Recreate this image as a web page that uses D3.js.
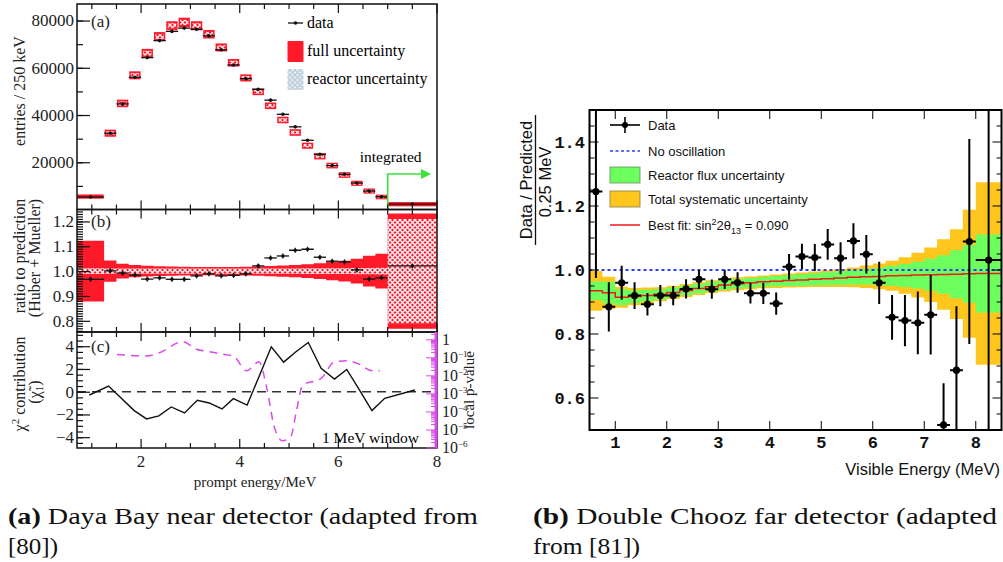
<!DOCTYPE html>
<html>
<head>
<meta charset="utf-8">
<script src="https://cdn.jsdelivr.net/npm/d3@7"></script>
<style>
body { margin: 0; background: #fff; }
</style>
</head>
<body>
<div id="chart"></div>
<script>
// ---------- Daya Bay (left figure) ----------
var dbEdges = [0.7, 1.25, 1.5, 1.75, 2.0, 2.25, 2.5, 2.75, 3.0, 3.25, 3.5, 3.75, 4.0, 4.25, 4.5, 4.75, 5.0, 5.25, 5.5, 5.75, 6.0, 6.25, 6.5, 6.75, 7.0, 8.0];
var dbData = [5300, 32300, 44700, 56000, 64300, 71500, 75400, 76800, 76300, 73500, 67600, 61200, 55400, 50900, 46300, 40300, 35000, 29300, 23400, 18600, 14900, 11200, 7800, 5400, 2300];
var dbPred = [5480, 32300, 44900, 56800, 66200, 73200, 77800, 79200, 77800, 74200, 68600, 62100, 55700, 49800, 43900, 37900, 32600, 27000, 22500, 18600, 14600, 11100, 7800, 5300, 2250];
var dbBoxErr = [900, 1500, 1600, 1700, 1800, 1900, 1900, 2000, 1900, 1800, 1700, 1600, 1500, 1400, 1400, 1400, 1400, 1300, 1300, 1200, 1200, 1100, 1100, 1000, 900];
var dbRatio = [0.967, 1.001, 0.992, 0.984, 0.968, 0.973, 0.967, 0.967, 0.981, 0.989, 0.981, 0.983, 0.989, 1.021, 1.053, 1.061, 1.084, 1.088, 1.056, 1.040, 1.037, 1.005, 0.968, 0.973, 1.021];
var dbFullUnc = [0.122, 0.043, 0.030, 0.025, 0.022, 0.020, 0.019, 0.018, 0.017, 0.017, 0.017, 0.017, 0.018, 0.019, 0.021, 0.023, 0.025, 0.028, 0.032, 0.037, 0.042, 0.050, 0.062, 0.070, 0.232];
var dbReacUnc = [0.012, 0.011, 0.011, 0.011, 0.011, 0.011, 0.011, 0.011, 0.011, 0.011, 0.011, 0.011, 0.011, 0.011, 0.011, 0.011, 0.011, 0.012, 0.012, 0.012, 0.012, 0.013, 0.013, 0.014, 0.21];
var chiX = [0.95, 1.34, 1.86, 2.11, 2.36, 2.61, 2.88, 3.14, 3.38, 3.64, 3.87, 4.15, 4.39, 4.64, 4.89, 5.14, 5.39, 5.65, 5.92, 6.17, 6.42, 6.68, 6.94, 7.55];
var chiY = [-0.29, 0.5, -1.66, -2.39, -2.13, -1.34, -1.87, -0.76, -0.99, -1.52, -0.61, -1.17, 1.32, 3.95, 2.6, 3.51, 4.33, 2.05, 1.11, 1.96, 0.21, -1.66, -0.58, 0.15];
var pvalX = [1.51, 2.10, 2.37, 2.84, 3.12, 3.38, 3.64, 3.87, 4.14, 4.39, 4.55, 4.70, 4.87, 5.04, 5.14, 5.28, 5.65, 5.92, 6.17, 6.42, 6.68, 6.84];
var pvalY = [0.155, 0.126, 0.19, 0.78, 0.30, 0.22, 0.16, 0.126, 0.019, 0.06, 0.002, 1.5e-5, 2.5e-6, 4.6e-6, 8.3e-5, 0.0031, 0.0072, 0.058, 0.069, 0.044, 0.019, 0.019];
var aTicks = [20000, 40000, 60000, 80000];
var bTicks = [0.8, 0.9, 1.0, 1.1, 1.2];
var cTicks = [-4, -2, 0, 2, 4];
var pTicks = [1, 1e-1, 1e-2, 1e-3, 1e-4, 1e-5, 1e-6];
var pTickExp = ["", "\u22121", "\u22122", "\u22123", "\u22124", "\u22125", "\u22126"];
var eTicks = [2, 4, 6, 8];

// ---------- Double Chooz (right figure) ----------
var dcEdges = [0.5, 0.75, 1.0, 1.25, 1.5, 1.75, 2.0, 2.25, 2.5, 2.75, 3.0, 3.25, 3.5, 3.75, 4.0, 4.25, 4.5, 4.75, 5.0, 5.25, 5.5, 5.75, 6.0, 6.25, 6.5, 6.75, 7.0, 7.25, 7.5, 7.75, 8.0, 8.5];
var dcRatio = [1.245, 0.885, 0.960, 0.920, 0.893, 0.920, 0.920, 0.941, 0.971, 0.940, 0.971, 0.961, 0.927, 0.927, 0.895, 1.010, 1.042, 1.039, 1.080, 1.037, 1.091, 1.049, 0.960, 0.852, 0.842, 0.835, 0.860, 0.516, 0.687, 1.089, 1.031];
var dcErr = [0.27, 0.077, 0.053, 0.042, 0.035, 0.033, 0.030, 0.030, 0.030, 0.030, 0.030, 0.032, 0.032, 0.033, 0.035, 0.040, 0.040, 0.042, 0.048, 0.050, 0.055, 0.060, 0.066, 0.070, 0.080, 0.098, 0.124, 0.13, 0.20, 0.32, 0.60];
var dcFit = [0.935, 0.929, 0.915, 0.917, 0.920, 0.924, 0.930, 0.936, 0.942, 0.948, 0.953, 0.957, 0.960, 0.963, 0.965, 0.967, 0.969, 0.971, 0.973, 0.975, 0.977, 0.979, 0.980, 0.982, 0.983, 0.984, 0.985, 0.986, 0.987, 0.988, 0.989];
var dcReac = [0.029, 0.034, 0.025, 0.020, 0.018, 0.016, 0.015, 0.015, 0.015, 0.015, 0.015, 0.015, 0.015, 0.015, 0.016, 0.017, 0.018, 0.019, 0.020, 0.021, 0.022, 0.024, 0.027, 0.031, 0.036, 0.042, 0.050, 0.060, 0.075, 0.090, 0.122];
var dcSyst = [0.062, 0.050, 0.033, 0.027, 0.025, 0.022, 0.021, 0.020, 0.020, 0.020, 0.020, 0.020, 0.020, 0.020, 0.021, 0.022, 0.023, 0.024, 0.026, 0.028, 0.031, 0.035, 0.040, 0.047, 0.057, 0.070, 0.085, 0.110, 0.140, 0.200, 0.285];
var dcYTicks = [0.6, 0.8, 1.0, 1.2, 1.4];
var dcXTicks = [1, 2, 3, 4, 5, 6, 7, 8];

var serif = "Liberation Serif, Times New Roman, serif";
var sans = "Liberation Sans, Arial, sans-serif";
var mono = "Liberation Mono, Courier New, monospace";

var svg = d3.select("#chart").append("svg")
    .attr("width", 1003)
    .attr("height", 562)
    .style("background", "#fff");

var defs = svg.append("defs");
// cross hatch used for reactor uncertainty
var pat = defs.append("pattern").attr("id", "hatch")
    .attr("patternUnits", "userSpaceOnUse").attr("width", 5).attr("height", 5);
pat.append("path").attr("d", "M0,0L5,5M5,0L0,5").attr("stroke", "#f2f3f8").attr("stroke-width", 1.35);
var pat2 = defs.append("pattern").attr("id", "hatchLeg")
    .attr("patternUnits", "userSpaceOnUse").attr("width", 5).attr("height", 5);
pat2.append("rect").attr("width", 5).attr("height", 5).attr("fill", "#e6edf2");
pat2.append("path").attr("d", "M0,0L5,5M5,0L0,5").attr("stroke", "#b7c9d6").attr("stroke-width", 1.1);

// ================= LEFT =================
var L = {left: 77, right: 437};
var x = d3.scaleLinear().domain([0.7, 8]).range([L.left, L.right]);
var yA = d3.scaleLinear().domain([0, 87000]).range([209.5, 4]);
var yB = d3.scaleLinear().domain([0.755, 1.248]).range([332, 209.5]);
var yC = d3.scaleLinear().domain([-4.95, 5.25]).range([448, 332]);
var yP = d3.scaleLog().domain([1e-6, 2.7]).range([448, 332]);

var bins = dbEdges.slice(0, -1).map(function(e, i) {
    return {lo: e, hi: dbEdges[i + 1], data: dbData[i], pred: dbPred[i], boxErr: dbBoxErr[i],
        ratio: dbRatio[i], full: dbFullUnc[i], reac: dbReacUnc[i]};
});

defs.append("clipPath").attr("id", "clipB").append("rect")
    .attr("x", L.left).attr("y", 209.5).attr("width", L.right - L.left).attr("height", 332 - 209.5);

// --- panel (a)
var gA = svg.append("g");
gA.selectAll("rect.full").data(bins).enter().append("rect")
    .attr("x", function(d) { return x(d.lo) + 0.5; })
    .attr("width", function(d) { return x(d.hi) - x(d.lo) - 1; })
    .attr("y", function(d) { return yA(d.pred + d.boxErr); })
    .attr("height", function(d) { return yA(d.pred - d.boxErr) - yA(d.pred + d.boxErr); })
    .attr("fill", "#ff1a2a");
gA.selectAll("rect.reac").data(bins.slice(1, 24)).enter().append("rect")
    .attr("x", function(d) { return x(d.lo) + 2; })
    .attr("width", function(d) { return x(d.hi) - x(d.lo) - 4; })
    .attr("y", function(d) { return yA(d.pred + d.boxErr * 0.55); })
    .attr("height", function(d) { return yA(d.pred - d.boxErr * 0.55) - yA(d.pred + d.boxErr * 0.55); })
    .attr("fill", "url(#hatch)");
gA.selectAll("line.dh").data(bins).enter().append("line")
    .attr("x1", function(d) { return x(d.lo); }).attr("x2", function(d) { return x(d.hi); })
    .attr("y1", function(d) { return yA(d.data); }).attr("y2", function(d) { return yA(d.data); })
    .attr("stroke", "#111").attr("stroke-width", 1.3);
gA.selectAll("circle").data(bins).enter().append("circle")
    .attr("cx", function(d) { return x((d.lo + d.hi) / 2); })
    .attr("cy", function(d) { return yA(d.data); })
    .attr("r", 1.8).attr("fill", "#111");

// integrated arrow
var arrowY = yA(15000);
gA.append("path")
    .attr("d", "M" + x(7.0) + "," + yA(0) + "V" + arrowY + "H" + (x(7.88) - 8))
    .attr("fill", "none").attr("stroke", "#3ee03e").attr("stroke-width", 1.6);
gA.append("path")
    .attr("d", "M" + x(7.88) + "," + arrowY + "l-10,-5v10z")
    .attr("fill", "#3ee03e");
gA.append("text").attr("x", x(7.06)).attr("y", yA(20200))
    .attr("text-anchor", "middle").attr("font-family", serif).attr("font-size", 15.5)
    .text("integrated");

// legend (a)
var legA = gA.append("g").attr("font-family", serif).attr("font-size", 16);
legA.append("line").attr("x1", 288).attr("x2", 303).attr("y1", 23).attr("y2", 23).attr("stroke", "#111").attr("stroke-width", 1.3);
legA.append("circle").attr("cx", 295.5).attr("cy", 23).attr("r", 1.8).attr("fill", "#111");
legA.append("text").attr("x", 307).attr("y", 28).text("data");
legA.append("rect").attr("x", 287.5).attr("y", 41).attr("width", 16).attr("height", 21).attr("rx", 1).attr("fill", "#ff1a2a");
legA.append("text").attr("x", 307).attr("y", 56).text("full uncertainty");
legA.append("rect").attr("x", 287.5).attr("y", 69).attr("width", 16).attr("height", 21).attr("fill", "url(#hatchLeg)");
legA.append("text").attr("x", 307).attr("y", 84).text("reactor uncertainty");

// --- panel (b)
var gB = svg.append("g").attr("clip-path", "url(#clipB)");
function stepPts(arr, lo, hi) {
    var pts = [];
    arr.forEach(function(d) { pts.push({x: d.lo, a: lo(d), b: hi(d)}); pts.push({x: d.hi, a: lo(d), b: hi(d)}); });
    return pts;
}
var areaB = d3.area().x(function(d) { return x(d.x); }).y0(function(d) { return yB(d.a); }).y1(function(d) { return yB(d.b); });
gB.append("path").datum(stepPts(bins, function(d) { return 1 - d.full; }, function(d) { return 1 + d.full; }))
    .attr("d", areaB).attr("fill", "#ff1a2a");
gB.append("path").datum(stepPts(bins, function(d) { return 1 - d.reac; }, function(d) { return 1 + d.reac; }))
    .attr("d", areaB).attr("fill", "url(#hatch)");
gB.selectAll("line.rh").data(bins).enter().append("line")
    .attr("x1", function(d) { return x(d.lo); }).attr("x2", function(d) { return x(d.hi); })
    .attr("y1", function(d) { return yB(d.ratio); }).attr("y2", function(d) { return yB(d.ratio); })
    .attr("stroke", "#111").attr("stroke-width", 1.3);
gB.selectAll("line.rv").data(bins).enter().append("line")
    .attr("x1", function(d) { return x((d.lo + d.hi) / 2); }).attr("x2", function(d) { return x((d.lo + d.hi) / 2); })
    .attr("y1", function(d) { return yB(d.ratio) - 2.5; }).attr("y2", function(d) { return yB(d.ratio) + 2.5; })
    .attr("stroke", "#111").attr("stroke-width", 1.3);
gB.selectAll("circle").data(bins).enter().append("circle")
    .attr("cx", function(d) { return x((d.lo + d.hi) / 2); })
    .attr("cy", function(d) { return yB(d.ratio); })
    .attr("r", 1.8).attr("fill", "#111");

// --- panel (c)
var gC = svg.append("g");
gC.append("line").attr("x1", L.left).attr("x2", L.right).attr("y1", yC(0)).attr("y2", yC(0))
    .attr("stroke", "#333").attr("stroke-width", 1.6).attr("stroke-dasharray", "9,6");
var chiLine = d3.line().x(function(d) { return x(d[0]); }).y(function(d) { return yC(d[1]); });
gC.append("path").datum(d3.zip(chiX, chiY)).attr("d", chiLine)
    .attr("fill", "none").attr("stroke", "#111").attr("stroke-width", 1.4);
var pLine = d3.line().x(function(d) { return x(d[0]); }).y(function(d) { return yP(d[1]); }).curve(d3.curveMonotoneX);
gC.append("path").datum(d3.zip(pvalX, pvalY)).attr("d", pLine)
    .attr("fill", "none").attr("stroke", "#d94ce8").attr("stroke-width", 1.5).attr("stroke-dasharray", "8,6");
gC.append("text").attr("x", 419).attr("y", 443).attr("text-anchor", "end")
    .attr("font-family", serif).attr("font-size", 15.5).text("1 MeV window");

// frames and axes for the left figure
function frame(y0, y1) {
    svg.append("rect").attr("x", L.left).attr("y", y0).attr("width", L.right - L.left).attr("height", y1 - y0)
        .attr("fill", "none").attr("stroke", "#111").attr("stroke-width", 1.5);
}
frame(4, 209.5); frame(209.5, 332); frame(332, 448);

function leftAxis(scale, major, minor, fmt) {
    var g = svg.append("g").attr("transform", "translate(" + L.left + ",0)")
        .call(d3.axisLeft(scale).tickValues(minor).tickSize(-6).tickFormat(""));
    g.select(".domain").remove();
    var g2 = svg.append("g").attr("transform", "translate(" + L.left + ",0)")
        .call(d3.axisLeft(scale).tickValues(major).tickSize(-13).tickPadding(3).tickFormat(fmt));
    g2.select(".domain").remove();
    g2.selectAll("text").attr("font-family", serif).attr("font-size", 17).attr("fill", "#222");
    svg.selectAll("g.tick line").attr("stroke", "#111").attr("stroke-width", 1.2);
}
leftAxis(yA, aTicks, d3.range(10000, 87000, 10000), d3.format("d"));
leftAxis(yB, bTicks, d3.range(0.76, 1.245, 0.01), d3.format(".1f"));
leftAxis(yC, cTicks, d3.range(-4.5, 5.2, 0.5), function(d) { return d < 0 ? "\u2212" + (-d) : d; });

var halfTicks = d3.range(1.0, 8.01, 0.5);
[[209.5, 4], [332, 209.5], [448, 332]].forEach(function(p) {
    [p[0], p[1]].forEach(function(yy, k) {
        var dir = k === 0 ? -1 : 1;
        svg.append("g").selectAll("line").data(halfTicks).enter().append("line")
            .attr("x1", function(d) { return x(d); }).attr("x2", function(d) { return x(d); })
            .attr("y1", yy).attr("y2", function(d) { return yy + dir * (d % 2 === 0 ? 9 : 5); })
            .attr("stroke", "#111").attr("stroke-width", 1.2);
    });
});
svg.append("g").selectAll("text").data(eTicks).enter().append("text")
    .attr("x", function(d) { return x(d); }).attr("y", 467)
    .attr("text-anchor", "middle").attr("font-family", serif).attr("font-size", 17).attr("fill", "#222")
    .text(function(d) { return d; });
svg.append("text").attr("x", 255).attr("y", 487).attr("text-anchor", "middle")
    .attr("font-family", serif).attr("font-size", 15).attr("fill", "#222").text("prompt energy/MeV");

// right log axis (magenta)
var pMinor = [];
for (var e = -6; e < 1; e++) { for (var m = 1; m < 10; m++) { var v = m * Math.pow(10, e); if (v <= 2.7) pMinor.push(v); } }
var gP = svg.append("g");
gP.append("line").attr("x1", L.right - 1).attr("x2", L.right - 1).attr("y1", 332).attr("y2", 448)
    .attr("stroke", "#d94ce8").attr("stroke-width", 3);
gP.selectAll("line.mn").data(pMinor).enter().append("line")
    .attr("x1", L.right).attr("x2", function(d) { return pTicks.indexOf(d) >= 0 ? L.right - 11 : L.right - 6; })
    .attr("y1", function(d) { return yP(d); }).attr("y2", function(d) { return yP(d); })
    .attr("stroke", "#d94ce8").attr("stroke-width", 1);
var pl = gP.selectAll("text").data(pTicks).enter().append("text")
    .attr("x", 442).attr("y", function(d) { return yP(d) + 5; })
    .attr("font-family", serif).attr("font-size", 16).attr("fill", "#222");
pl.append("tspan").text(function(d, i) { return i === 0 ? "1" : "10"; });
pl.append("tspan").attr("dy", -6).attr("font-size", 9).text(function(d, i) { return pTickExp[i]; });
svg.append("text").attr("transform", "translate(474,390) rotate(-90)").attr("text-anchor", "middle")
    .attr("font-family", serif).attr("font-size", 15).attr("fill", "#222").text("local p-value");

// y titles (left)
function vtitle(xb, yc, txt) {
    return svg.append("text").attr("transform", "translate(" + xb + "," + yc + ") rotate(-90)")
        .attr("text-anchor", "middle").attr("font-family", serif).attr("font-size", 16).attr("fill", "#222").text(txt);
}
vtitle(25, 91, "entries / 250 keV");
vtitle(25, 256, "ratio to prediction");
vtitle(40, 258, "(Huber + Mueller)");
var chiT = vtitle(25, 384, "\u03c7");
chiT.append("tspan").attr("dy", -6).attr("font-size", 11).text("2");
chiT.append("tspan").attr("dy", 6).text(" contribution");
var chiT2 = vtitle(40, 392, "(\u03c7\u0303");
chiT2.append("tspan").attr("dy", 3).attr("font-size", 11).text("1");
chiT2.append("tspan").attr("dy", -3).text(")");

// panel labels
[["(a)", yA(80000)], ["(b)", yB(1.2)], ["(c)", yC(4)]].forEach(function(p) {
    svg.append("text").attr("x", 91).attr("y", p[1] + 6).attr("font-family", serif).attr("font-size", 17)
        .attr("fill", "#222").text(p[0]);
});

// ================= RIGHT =================
var R = {left: 589.5, right: 1001.5, top: 110, bottom: 430};
var xr = d3.scaleLinear().domain([0.5, 8.5]).range([R.left, R.right]);
var yr = d3.scaleLinear().domain([0.5, 1.5]).range([R.bottom, R.top]);
defs.append("clipPath").attr("id", "clipR").append("rect")
    .attr("x", R.left).attr("y", R.top).attr("width", R.right - R.left).attr("height", R.bottom - R.top);

var dcBins = dcEdges.slice(0, -1).map(function(e, i) {
    return {lo: e, hi: dcEdges[i + 1], ratio: dcRatio[i], err: dcErr[i], fit: dcFit[i], reac: dcReac[i], syst: dcSyst[i]};
});
var gR = svg.append("g").attr("clip-path", "url(#clipR)");
var areaR = d3.area().x(function(d) { return xr(d.x); }).y0(function(d) { return yr(d.a); }).y1(function(d) { return yr(d.b); });
gR.append("path").datum(stepPts(dcBins, function(d) { return d.fit - d.syst; }, function(d) { return d.fit + d.syst; }))
    .attr("d", areaR).attr("fill", "#ffc61e");
gR.append("path").datum(stepPts(dcBins, function(d) { return d.fit - d.reac; }, function(d) { return d.fit + d.reac; }))
    .attr("d", areaR).attr("fill", "#6cff5e");
gR.append("path").datum(stepPts(dcBins, function(d) { return d.fit; }, function(d) { return d.fit; }))
    .attr("d", d3.line().x(function(d) { return xr(d.x); }).y(function(d) { return yr(d.a); }))
    .attr("fill", "none").attr("stroke", "#ee1c1c").attr("stroke-width", 1.5);
gR.append("line").attr("x1", R.left).attr("x2", R.right).attr("y1", yr(1)).attr("y2", yr(1))
    .attr("stroke", "#2f3cf5").attr("stroke-width", 2).attr("stroke-dasharray", "3,3");
gR.selectAll("line.eh").data(dcBins).enter().append("line")
    .attr("x1", function(d) { return xr(d.lo); }).attr("x2", function(d) { return xr(d.hi); })
    .attr("y1", function(d) { return yr(d.ratio); }).attr("y2", function(d) { return yr(d.ratio); })
    .attr("stroke", "#000").attr("stroke-width", 2);
gR.selectAll("line.ev").data(dcBins).enter().append("line")
    .attr("x1", function(d) { return xr((d.lo + d.hi) / 2); }).attr("x2", function(d) { return xr((d.lo + d.hi) / 2); })
    .attr("y1", function(d) { return yr(d.ratio + d.err); }).attr("y2", function(d) { return yr(d.ratio - d.err); })
    .attr("stroke", "#000").attr("stroke-width", 2);
gR.selectAll("circle").data(dcBins).enter().append("circle")
    .attr("cx", function(d) { return xr((d.lo + d.hi) / 2); })
    .attr("cy", function(d) { return yr(d.ratio); })
    .attr("r", 3.6).attr("fill", "#000");

svg.append("rect").attr("x", R.left).attr("y", R.top).attr("width", R.right - R.left).attr("height", R.bottom - R.top)
    .attr("fill", "none").attr("stroke", "#000").attr("stroke-width", 2);

// ticks right figure
var gt = svg.append("g").attr("stroke", "#000").attr("stroke-width", 1);
var yMin = d3.range(0.55, 1.5, 0.05);
[R.left, R.right].forEach(function(xx, k) {
    var dir = k === 0 ? 1 : -1;
    gt.selectAll(null).data(yMin).enter().append("line")
        .attr("x1", xx).attr("x2", function(d) { return xx + dir * (Math.abs(d * 5 - Math.round(d * 5)) < 1e-6 ? 9 : 5); })
        .attr("y1", function(d) { return yr(d); }).attr("y2", function(d) { return yr(d); });
});
[R.bottom, R.top].forEach(function(yy, k) {
    var dir = k === 0 ? -1 : 1;
    gt.selectAll(null).data(dcXTicks).enter().append("line")
        .attr("x1", function(d) { return xr(d); }).attr("x2", function(d) { return xr(d); })
        .attr("y1", yy).attr("y2", yy + dir * 9);
});
svg.append("g").selectAll("text").data(dcYTicks).enter().append("text")
    .attr("x", 585).attr("y", function(d) { return yr(d) + 5.5; }).attr("text-anchor", "end")
    .attr("font-family", mono).attr("font-weight", "bold").attr("font-size", 17).attr("fill", "#111")
    .text(d3.format(".1f"));
svg.append("g").selectAll("text").data(dcXTicks).enter().append("text")
    .attr("x", function(d) { return xr(d); }).attr("y", 448).attr("text-anchor", "middle")
    .attr("font-family", mono).attr("font-weight", "bold").attr("font-size", 17).attr("fill", "#111")
    .text(function(d) { return d; });
svg.append("text").attr("x", 1000).attr("y", 475).attr("text-anchor", "end")
    .attr("font-family", sans).attr("font-size", 16.5).attr("fill", "#111").text("Visible Energy (MeV)");

// y title as a fraction
svg.append("text").attr("transform", "translate(532,180) rotate(-90)").attr("text-anchor", "middle")
    .attr("font-family", sans).attr("font-size", 16.5).attr("fill", "#111").text("Data / Predicted");
svg.append("line").attr("x1", 535.5).attr("x2", 535.5).attr("y1", 115).attr("y2", 245).attr("stroke", "#111").attr("stroke-width", 1.3);
svg.append("text").attr("transform", "translate(551,182) rotate(-90)").attr("text-anchor", "middle")
    .attr("font-family", sans).attr("font-size", 16.5).attr("fill", "#111").text("0.25 MeV");

// legend right
var lg = svg.append("g").attr("font-family", sans).attr("font-size", 13).attr("fill", "#111");
lg.append("line").attr("x1", 610).attr("x2", 640).attr("y1", 125).attr("y2", 125).attr("stroke", "#000").attr("stroke-width", 1.6);
lg.append("line").attr("x1", 625).attr("x2", 625).attr("y1", 117).attr("y2", 133).attr("stroke", "#000").attr("stroke-width", 1.6);
lg.append("circle").attr("cx", 625).attr("cy", 125).attr("r", 3).attr("fill", "#000");
lg.append("text").attr("x", 648).attr("y", 130).text("Data");
lg.append("line").attr("x1", 610).attr("x2", 640).attr("y1", 151).attr("y2", 151).attr("stroke", "#2f3cf5").attr("stroke-width", 1.6).attr("stroke-dasharray", "3,2.5");
lg.append("text").attr("x", 648).attr("y", 156).text("No oscillation");
lg.append("rect").attr("x", 610).attr("y", 167).attr("width", 30).attr("height", 16).attr("fill", "#6cff5e").attr("stroke", "#6a8a60").attr("stroke-width", 0.8);
lg.append("text").attr("x", 648).attr("y", 180).text("Reactor flux uncertainty");
lg.append("rect").attr("x", 610).attr("y", 191).attr("width", 30).attr("height", 16).attr("fill", "#ffc61e").attr("stroke", "#8a7a40").attr("stroke-width", 0.8);
lg.append("text").attr("x", 648).attr("y", 204).text("Total systematic uncertainty");
lg.append("line").attr("x1", 610).attr("x2", 640).attr("y1", 225).attr("y2", 225).attr("stroke", "#ee1c1c").attr("stroke-width", 1.5);
var bf = lg.append("text").attr("x", 648).attr("y", 230).text("Best fit: sin");
bf.append("tspan").attr("dy", -5).attr("font-size", 9).text("2");
bf.append("tspan").attr("dy", 5).text("2\u03b8");
bf.append("tspan").attr("dy", 4).attr("font-size", 9).text("13");
bf.append("tspan").attr("dy", -4).text(" = 0.090");

// ================= captions =================
var cap = svg.append("g").attr("font-family", serif).attr("font-size", 23).attr("fill", "#111");
function capLine(x0, y0, len, bold, rest) {
    var t = cap.append("text").attr("x", x0).attr("y", y0).attr("textLength", len).attr("lengthAdjust", "spacingAndGlyphs");
    if (bold) t.append("tspan").attr("font-weight", "bold").text(bold);
    t.append("tspan").text(rest);
}
capLine(8, 524, 470, "(a)", " Daya Bay near detector (adapted from");
capLine(8, 554, 50, null, "[80])");
capLine(533, 524, 464, "(b)", " Double Chooz far detector (adapted");
capLine(533, 554, 107, null, "from [81])");
</script>
</body>
</html>
